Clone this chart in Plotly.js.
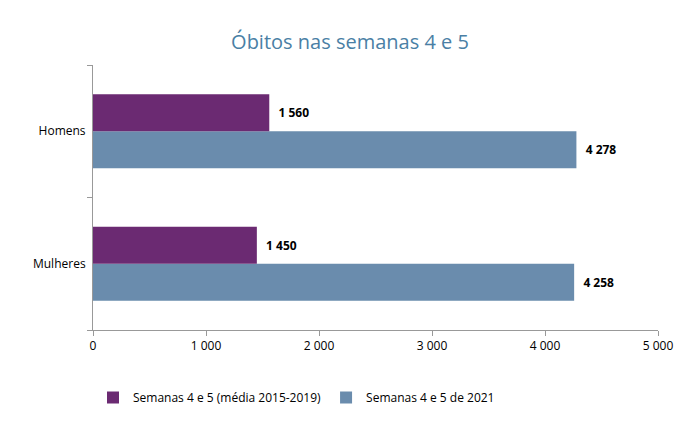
<!DOCTYPE html>
<html>
<head>
<meta charset="utf-8">
<script src="https://cdn.plot.ly/plotly-3.0.1.min.js"></script>
<style>body{margin:0;background:#fff}</style>
</head>
<body>
<div id="chart" style="width:700px;height:422px"></div>
<script>
const categories = ["Mulheres", "Homens"]
const mediaValues = [1450, 1560]
const ano2021Values = [4258, 4278]
const tickVals = [0, 1000, 2000, 3000, 4000, 5000]
const tickText = ["0", "1 000", "2 000", "3 000", "4 000", "5 000"]

const fmt = v => "  " + String(v).replace(/\B(?=(\d{3})+(?!\d))/g, " ")

const data = [
    {
        type: "bar", orientation: "h",
        y: categories, x: ano2021Values,
        name: "Semanas 4 e 5 de 2021",
        marker: {color: "#6A8CAD"},
        text: ano2021Values.map(fmt), textposition: "outside",
        textfont: {size: 12, color: "#000", family: "Open Sans", weight: "bold"},
        cliponaxis: false
    },
    {
        type: "bar", orientation: "h",
        y: categories, x: mediaValues,
        name: "Semanas 4 e 5 (média 2015-2019)",
        marker: {color: "#6B2A72"},
        text: mediaValues.map(fmt), textposition: "outside",
        textfont: {size: 12, color: "#000", family: "Open Sans", weight: "bold"},
        cliponaxis: false
    }
]

const layout = {
    width: 700, height: 422,
    margin: {l: 93, r: 42, t: 65, b: 92, autoexpand: false},
    font: {family: "Open Sans", size: 12, color: "#000"},
    title: {text: "Óbitos nas semanas 4 e 5", x: 0.5, y: 0.9, yanchor: "middle",
        font: {size: 20, color: "#4A7FA5"}},
    barmode: "group", bargap: 0.44, bargroupgap: 0,
    xaxis: {range: [0, 5000], tickvals: tickVals, ticktext: tickText,
        showgrid: false, zeroline: false, showline: true, linecolor: "#999",
        ticks: "outside", tickcolor: "#999", ticklen: 5, fixedrange: true},
    yaxis: {showgrid: false, showline: true, linecolor: "#999",
        ticks: "outside", tickson: "boundaries", tickcolor: "#999", ticklen: 5,
        ticklabelstandoff: 4},
    showlegend: true,
    legend: {orientation: "h", traceorder: "reversed", x: 0.0, y: -0.2,
        xanchor: "left", yanchor: "top", font: {size: 12}},
    paper_bgcolor: "#fff", plot_bgcolor: "#fff"
}

Plotly.newPlot("chart", data, layout, {displayModeBar: false})
</script>
</body>
</html>
